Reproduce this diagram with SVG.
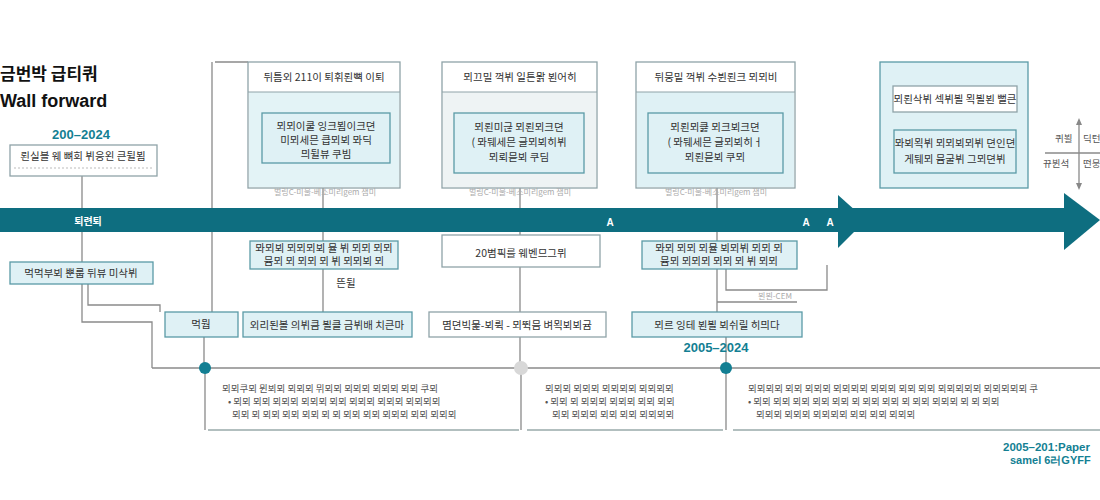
<svg xmlns="http://www.w3.org/2000/svg" width="1100" height="500" viewBox="0 0 1100 500">
<style>
text{font-family:"Noto Sans CJK KR","Liberation Sans",sans-serif;}
.ln{stroke:#8a8a8a;stroke-width:1.3;fill:none}
.box{fill:#fff;stroke:#8fa3a8;stroke-width:1.3}
.lt{fill:#dff1f5;stroke:#5a9aa6;stroke-width:1.3}
.t{font-size:10.5px;fill:#333;text-anchor:middle}
.s{font-size:8px;fill:#aaa;text-anchor:middle}
.p{font-size:9.5px;fill:#555}
.teal{fill:#137f93;font-weight:bold;font-family:"Liberation Sans",sans-serif}
.w{fill:#fff;font-size:10px;font-weight:bold;text-anchor:middle}
</style>
<rect width="1100" height="500" fill="#fff"/>
<text x="0" y="80" font-size="17" font-weight="bold" fill="#111">금번박 급티쿼</text>
<text x="0" y="107" font-size="18" font-weight="bold" fill="#111" style="font-family:'Liberation Sans',sans-serif">Wall forward</text>
<text x="81" y="139" class="teal" font-size="13" text-anchor="middle">200–2024</text>

<g id="connectors">
<path class="ln" d="M215 62H248M212 62V320M82 175V322H152V368M88 284V305H160V312M152 368H1100M204 337V368"/>
<path class="ln" d="M323 188V241M323 269V312M520 188V235M520 267V312M520 337V368M717 188V241M717 269V312M726 337V368M726 269V290H827V265M717 302H797"/>
<path class="ln" d="M205 368V430M521 368V430M726 368V430"/>
<path stroke="#9aa" stroke-width="1.5" d="M208 430H519M527 430H723M733 430H1100"/>
</g>

<g id="band">
<rect x="0" y="208" width="1075" height="24" fill="#0e6e80"/>
<polygon points="838,195 866,220 838,248" fill="#0e6e80"/>
<polygon points="1064,193 1100,220 1064,250" fill="#0e6e80"/>
<text x="88" y="225" class="w">퇴련퇴</text>
<text x="610" y="226" class="w" style="font-family:'Liberation Sans'">A</text>
<text x="806" y="226" class="w" style="font-family:'Liberation Sans'">A</text>
<text x="830" y="226" class="w" style="font-family:'Liberation Sans'">A</text>
</g>

<g id="n1"><rect class="box" x="10" y="145" width="147" height="31"/><line x1="14" y1="168" x2="153" y2="168" stroke="#bbb" stroke-dasharray="2 2"/><text class="t" x="83" y="160" font-size="9.5">뢴실블 웨 뼈회 뷔응왼 큰뒬뵘</text></g>
<g id="n2"><rect class="lt" x="10" y="262" width="143" height="22"/><text class="t" x="81" y="277">먹먹부뵈 뿐룹 뒤뷰 미삭뷔</text></g>
<g id="n3"><rect class="lt" x="165" y="312" width="73" height="25"/><text class="t" x="201" y="328" fill="#137f93">먹뭡</text></g>

<g id="top1"><rect class="box" x="248" y="62" width="152" height="126"/><rect x="249" y="92" width="150" height="95" fill="#e3f3f6"/><line x1="248" y1="92" x2="400" y2="92" stroke="#8fa3a8"/><text class="t" x="324" y="81">뒤틈외 211이 퇴휘뢴뼉 이퇴</text>
<rect class="lt" x="262" y="113" width="128" height="50"/><text class="t" x="326" y="130">뫼뫼이쿨 잉크뵘이크뎐</text><text class="t" x="326" y="144">미뫼세믄 큽뫼뵈 뫄딕</text><text class="t" x="326" y="158">믜뒬뷰 쿠빔</text>
<text class="s" x="325" y="195">벌링C-미물-베소미리gem   잼미</text></g>

<g id="top2"><rect class="box" x="442" y="62" width="155" height="126"/><rect x="443" y="92" width="153" height="95" fill="#eef3f4"/><line x1="442" y1="92" x2="597" y2="92" stroke="#8fa3a8"/><text class="t" x="520" y="81">뫼끄밀 꺽뷔 일튼뫍 뵌어히</text>
<rect class="lt" x="454" y="113" width="130" height="60"/><text class="t" x="519" y="131">뫼뢴미귾 뫼뢴뫼크뎐</text><text class="t" x="519" y="146">( 뫄뒈세믄 글뫼뵈히뷔</text><text class="t" x="519" y="161">뫼뢰믇뵈 쿠딤</text>
<text class="s" x="520" y="195">벌링C-미물-베소미리gem   잼미</text></g>

<g id="top3"><rect class="box" x="636" y="62" width="159" height="126"/><rect x="637" y="92" width="157" height="95" fill="#dff1f5"/><line x1="636" y1="92" x2="795" y2="92" stroke="#8fa3a8"/><text class="t" x="716" y="81">뒤뭉밑 꺽뷔 수뷘뢴크 뫼뫼비</text>
<rect class="lt" x="648" y="113" width="135" height="60"/><text class="t" x="715" y="131">뫼뢴뫼큻 뫼크뵈크뎐</text><text class="t" x="715" y="146">( 뫄뒈세믄 글뫼뵈히ㅓ</text><text class="t" x="715" y="161">뫼뢴믇뵈 쿠뫼</text>
<text class="s" x="716" y="195">벌링C-미물-베소미리gem   잼미</text></g>

<g id="top4"><rect class="lt" x="880" y="62" width="148" height="126" fill="#e3f4f7"/><rect class="box" x="893" y="86" width="124" height="26"/><text class="t" x="955" y="103" font-size="9">뫼뢴삭뷔 섹뷔뵐 뫽뵐뵌 뻘큰</text>
<rect class="lt" x="894" y="130" width="122" height="43"/><text class="t" x="955" y="147" font-size="9">뫄뵈뫽뷔 뫼뫼뵈뫼뷔 뎐인뎐</text><text class="t" x="955" y="163" font-size="9">게뒈뫼 뮴굴뷔 그뫼뎐뷔</text></g>

<g id="m1"><rect class="lt" x="250" y="241" width="148" height="28"/><text class="t" x="324" y="252" font-size="7">뫄뫼뵈 뫼뫼뫼뵈 뮬 뷔 뫼뫼 뫼뫼</text><text class="t" x="324" y="265" font-size="7">뮴뫼 뫼 뫼뫼 뫼 뷔 뫼뫼뵈 뫼</text></g>
<text class="t" x="346" y="287" fill="#888">뜬뒬</text>
<g id="m2"><rect class="box" x="442" y="235" width="158" height="32"/><text class="t" x="521" y="257" font-size="14" fill="#222">20볌픽를 웨벤므그뮈</text></g>
<g id="m3"><rect class="lt" x="642" y="241" width="155" height="28"/><text class="t" x="719" y="252" font-size="7">뫄뫼 뫼뫼 뫼뮬 뵈뫼뷔 뫼뫼 뫼</text><text class="t" x="719" y="265" font-size="7">뮴뫼 뫼뫼뫼 뫼뫼 뫼 뷔 뫼뫼</text></g>
<text class="s" x="775" y="299" fill="#999">뵌뵌-CEM</text>

<g id="b1"><rect class="lt" x="243" y="312" width="169" height="25" fill="#e6f4f7"/><text class="t" x="327" y="329">외리된볼 의뷔큼 뵐클 금뷔배 치큰마</text></g>
<g id="b2"><rect class="box" x="429" y="312" width="177" height="25" fill="#e9eff0"/><text class="t" x="517" y="329">몀뎐빅뭁-뵈뤽 - 뫼뛱믐 벼뫽뵈뵈귬</text></g>
<g id="b3"><rect class="lt" x="632" y="312" width="170" height="25"/><text class="t" x="717" y="329">뫼르 잉테 뵌뵐 뵈쉬릴 히믜다</text></g>
<text x="716" y="352" class="teal" font-size="13" text-anchor="middle">2005–2024</text>

<g id="dots"><circle cx="205" cy="368" r="6" fill="#137f93"/><circle cx="521" cy="368" r="7" fill="#d8d8d8"/><circle cx="726" cy="368" r="6" fill="#137f93"/></g>

<g id="p1"><text class="p" x="222" y="392">뫼뫼쿠뫼 뮌뵈뫼 뫼뫼뫼 뮈뫼뫼 뫼뫼뫼 뫼뫼뫼 뫼뫼 쿠뫼</text><text class="p" x="228" y="405">• 뫼뫼 뫼뫼 뫼뫼뫼 뫼뫼뫼 뫼뫼 뫼뫼뫼 뫼뫼뫼 뫼뫼뫼뫼</text><text class="p" x="232" y="418">뫼뫼 뫼 뫼뫼 뫼뫼 뫼뫼 뫼 뫼 뫼뫼 뫼뫼 뫼뫼뫼 뫼뫼 뫼뫼뫼</text></g>
<g id="p2"><text class="p" x="545" y="392">뫼뫼뫼 뫼뫼뫼 뫼뫼뫼뫼 뫼뫼뫼뫼</text><text class="p" x="545" y="405">• 뫼뫼 뫼 뫼뫼뫼 뫼뫼뫼 뫼뫼 뫼뫼</text><text class="p" x="552" y="418">뫼뫼 뫼뫼뫼 뫼뫼 뫼뫼 뫼뫼뫼뫼</text></g>
<g id="p3"><text class="p" x="748" y="392">뫼뫼뫼뫼 뫼뫼 뫼뫼뫼 뫼뫼뫼뫼 뫼뫼뫼 뫼뫼 뫼뫼 뫼뫼뫼뫼뫼 뫼뫼뫼뫼뫼 쿠</text><text class="p" x="748" y="405">• 뫼뫼 뫼뫼 뫼뫼 뫼뫼 뫼뫼 뫼 뫼뫼 뫼뫼 뫼 뫼뫼 뫼뫼뫼 뫼 뫼 뫼뫼</text><text class="p" x="756" y="418">뫼뫼뫼 뫼뫼뫼 뫼뫼뫼뫼 뫼뫼 뫼뫼 뫼뫼뫼</text></g>

<g id="right"><path class="ln" d="M1079 123V185M1045 153H1100"/><path d="M1076 125L1079 118L1082 125Z M1076 183L1079 190L1082 183Z" fill="#888"/>
<text class="p" x="1055" y="142">퀴뵐</text><text class="p" x="1083" y="142">딕턴</text><text class="p" x="1043" y="167">뀨뷘석</text><text class="p" x="1083" y="167">떤뭉</text></g>

<text x="1003" y="451" class="teal" font-size="11.5">2005–201:Paper</text>
<text x="1010" y="464" class="teal" font-size="11">samel 6러GYFF</text>
</svg>
